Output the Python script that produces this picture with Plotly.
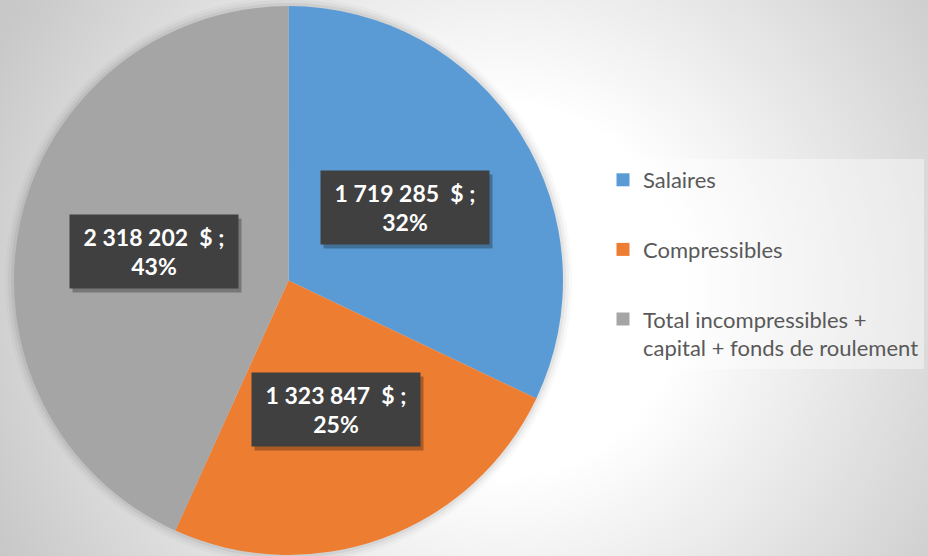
import base64
import math
import plotly.graph_objects as go

# ---- data ----
categories = ["Salaires", "Compressibles", "Total incompressibles +<br>capital + fonds de roulement"]
values = [1719285, 1323847, 2318202]
colors = ["#5B9BD5", "#ED7D31", "#A5A5A5"]

# ---- layout constants (pixels) ----
W, H = 928, 556
PIE_X = (14, 563)      # pixel extent of pie domain (left, right)
PIE_Y = (6, 555)       # pixel extent of pie domain (top, bottom)
LABEL_R = 0.5          # labels placed at half radius

def px_to_paper_x(px):
    return px / W

def px_to_paper_y(py):
    return 1 - py / H

cx = (PIE_X[0] + PIE_X[1]) / 2
cy = (PIE_Y[0] + PIE_Y[1]) / 2
r = min(PIE_X[1] - PIE_X[0], PIE_Y[1] - PIE_Y[0]) / 2

fig = go.Figure()

# background radial gradient as inline SVG image
svg = f'''<svg xmlns="http://www.w3.org/2000/svg" width="{W}" height="{H}">
<defs><radialGradient id="g" gradientUnits="userSpaceOnUse" cx="500" cy="290" r="560">
<stop offset="0" stop-color="#ffffff"/><stop offset="0.33" stop-color="#ffffff"/>
<stop offset="1" stop-color="#c8c8c8"/></radialGradient></defs>
<rect width="{W}" height="{H}" fill="url(#g)"/></svg>'''
src = "data:image/svg+xml;base64," + base64.b64encode(svg.encode()).decode()

fig.add_trace(go.Pie(
    labels=[c.replace("<br>", " ") for c in categories],
    values=values,
    marker=dict(colors=colors, line=dict(width=0)),
    sort=False,
    direction="clockwise",
    rotation=0,
    textinfo="none",
    hovertemplate="%{label}<br>%{value:,} $<br>%{percent}<extra></extra>",
    domain=dict(x=[px_to_paper_x(PIE_X[0]), px_to_paper_x(PIE_X[1])],
                y=[px_to_paper_y(PIE_Y[1]), px_to_paper_y(PIE_Y[0])]),
    showlegend=False,
))

# legend entries (dummy traces so items can be spaced apart)
for i, (cat, col) in enumerate(zip(categories, colors)):
    fig.add_trace(go.Scatter(
        x=[None], y=[None], mode="markers", name=cat,
        marker=dict(symbol="square", size=13, color=col),
        legendgroup=f"g{i}", showlegend=True, hoverinfo="skip",
    ))

# soft halo around the pie
shapes = []
for extra, alpha in [(9, 0.025), (6, 0.035), (3, 0.05)]:
    shapes.append(dict(
        type="circle", xref="paper", yref="paper", layer="below",
        x0=px_to_paper_x(cx - r - extra), x1=px_to_paper_x(cx + r + extra),
        y0=px_to_paper_y(cy + r + extra), y1=px_to_paper_y(cy - r - extra),
        fillcolor=f"rgba(0,0,0,{alpha})", line=dict(width=0),
    ))

# data labels
total = sum(values)
annotations = []
cum = 0
for v in values:
    frac = v / total
    mid = cum + frac / 2
    cum += frac
    theta = 2 * math.pi * mid
    lx = cx + LABEL_R * r * math.sin(theta)
    ly = cy - LABEL_R * r * math.cos(theta)
    txt = f"{v:,}".replace(",", " ") + "  $ ;<br>" + f"{round(frac * 100)}%"
    common = dict(xref="paper", yref="paper", x=px_to_paper_x(lx), y=px_to_paper_y(ly),
                  xanchor="center", yanchor="middle", showarrow=False,
                  width=156, height=61, borderpad=6, align="center")
    # drop shadow box (no text)
    annotations.append(dict(text=" ", bgcolor="rgba(0,0,0,0.28)",
                            font=dict(family="Lato", size=23, color="rgba(0,0,0,0)"),
                            xshift=3, yshift=-4, **common))
    annotations.append(dict(text="<b>" + txt.replace("<br>", "</b><br><b>") + "</b>",
                            bgcolor="#404040",
                            font=dict(family="Lato", size=23, color="#ffffff"), **common))

fig.update_layout(
    width=W, height=H,
    margin=dict(l=0, r=0, t=0, b=0),
    paper_bgcolor="#e8e8e8",
    plot_bgcolor="rgba(0,0,0,0)",
    images=[dict(source=src, xref="paper", yref="paper", x=0, y=1,
                 sizex=1, sizey=1, sizing="stretch", layer="below",
                 xanchor="left", yanchor="top")],
    xaxis=dict(visible=False),
    yaxis=dict(visible=False),
    shapes=shapes,
    annotations=annotations,
    legend=dict(
        x=px_to_paper_x(603), y=px_to_paper_y(159), xanchor="left", yanchor="top",
        font=dict(family="Lato", size=22, color="#595959"),
        bgcolor="rgba(255,255,255,0.4)", borderwidth=0,
        tracegroupgap=38, valign="top", itemclick=False, itemdoubleclick=False,
        entrywidth=285,
    ),
    font=dict(family="Lato"),
)

fig.write_html("out.html", config={"displayModeBar": False},
               post_script="document.body.style.margin='0';")
